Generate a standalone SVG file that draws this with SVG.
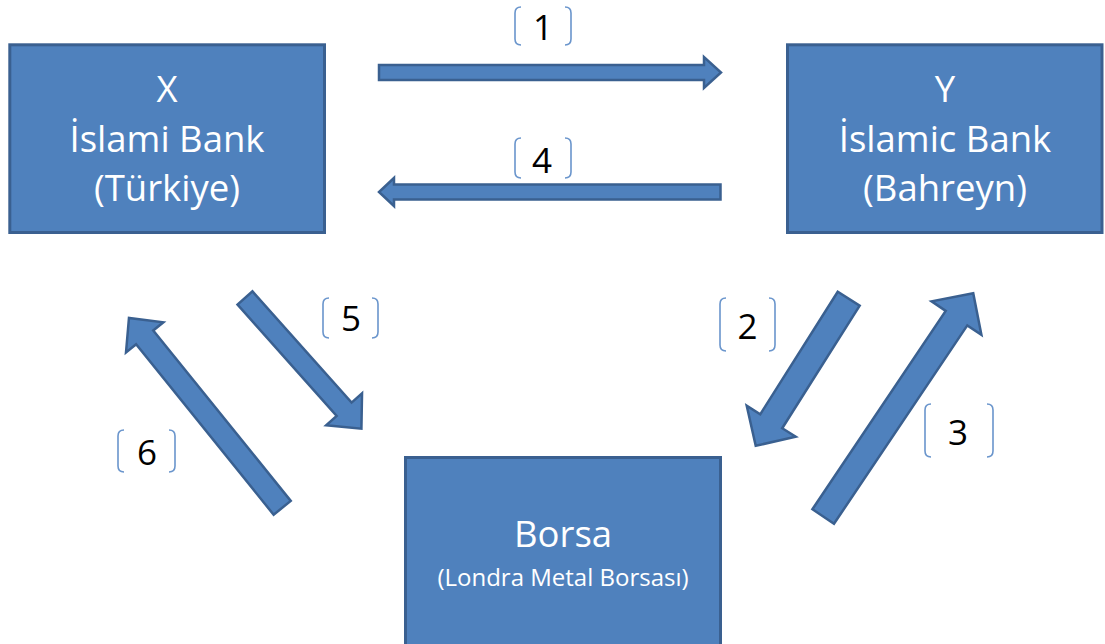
<svg xmlns="http://www.w3.org/2000/svg" width="1105" height="644" viewBox="0 0 1105 644">
  <style>
    .box { fill: #4F81BD; stroke: #3A6090; stroke-width: 3; }
    .arrow { fill: #4F81BD; stroke: #3A6090; stroke-width: 2.5; stroke-linejoin: miter; }
    .title { font-family: "Open Sans", "Liberation Sans", sans-serif; font-size: 36.5px; fill: #FFFFFF; text-anchor: middle; }
    .sub { font-family: "Open Sans", "Liberation Sans", sans-serif; font-size: 24px; fill: #FFFFFF; text-anchor: middle; }
    .num { font-family: "Open Sans", "Liberation Sans", sans-serif; font-size: 35px; fill: #000000; text-anchor: middle; }
    .brace { fill: none; stroke: #6A95CC; stroke-width: 1.6; }
  </style>

  <!-- Nodes -->
  <g id="bank-x">
    <rect class="box" x="9.8" y="44.8" width="314.7" height="187.7"/>
    <text class="title" x="167" y="102">X</text>
    <text class="title" x="167" y="152">İslami Bank</text>
    <text class="title" x="167" y="201">(Türkiye)</text>
  </g>

  <g id="bank-y">
    <rect class="box" x="787.5" y="44.8" width="314.5" height="187.7"/>
    <text class="title" x="945" y="102">Y</text>
    <text class="title" x="945" y="152">İslamic Bank</text>
    <text class="title" x="945" y="201">(Bahreyn)</text>
  </g>

  <g id="borsa">
    <rect class="box" x="405.5" y="457.5" width="315" height="200"/>
    <text class="title" x="563" y="547">Borsa</text>
    <text class="sub" x="563" y="586">(Londra Metal Borsası)</text>
  </g>

  <!-- Connectors: block arrows -->
  <g id="connectors">
    <!-- 1: X to Y -->
    <polygon class="arrow" points="379,65 704,65 704,57 721,72.5 704,88 704,80 379,80"/>
    <!-- 4: Y to X -->
    <polygon class="arrow" points="720.5,184.5 394,184.5 394,178 379,192 394,206 394,199.5 720.5,199.5"/>
    <!-- 2: Y down to Borsa -->
    <polygon class="arrow" transform="translate(848.7,298.7) rotate(122.3)" points="0,-13 145,-13 145,-29 174,0 145,29 145,13 0,13"/>
    <!-- 3: Borsa up to Y -->
    <polygon class="arrow" transform="translate(823.2,516.5) rotate(-56.1)" points="0,-13 239,-13 239,-30 269,0 239,30 239,13 0,13"/>
    <!-- 5: X down to Borsa -->
    <polygon class="arrow" transform="translate(245,298) rotate(48.3)" points="0,-10 149,-10 149,-24 175,0 149,24 149,10 0,10"/>
    <!-- 6: Borsa up to X -->
    <polygon class="arrow" transform="translate(282.2,507.8) rotate(-128.9)" points="0,-11 219,-11 219,-24 244,0 219,24 219,11 0,11"/>
  </g>

  <!-- Step labels with bracket pairs -->
  <g id="label-1">
    <path class="brace" d="M521,7 Q515,7 515,13 L515,39 Q515,45 521,45 M565,7 Q571,7 571,13 L571,39 Q571,45 565,45"/>
    <text class="num" x="543" y="40">1</text>
  </g>
  <g id="label-4">
    <path class="brace" d="M521,138 Q515,138 515,144 L515,172 Q515,178 521,178 M565,138 Q571,138 571,144 L571,172 Q571,178 565,178"/>
    <text class="num" x="542" y="173">4</text>
  </g>
  <g id="label-5">
    <path class="brace" d="M329,298 Q323,298 323,304 L323,332 Q323,338 329,338 M372,298 Q378,298 378,304 L378,332 Q378,338 372,338"/>
    <text class="num" x="351" y="331">5</text>
  </g>
  <g id="label-2">
    <path class="brace" d="M726,298 Q720,298 720,304 L720,345 Q720,351 726,351 M769,298 Q775,298 775,304 L775,345 Q775,351 769,351"/>
    <text class="num" x="747.5" y="339">2</text>
  </g>
  <g id="label-3">
    <path class="brace" d="M931,404 Q925,404 925,410 L925,451 Q925,457 931,457 M987,404 Q993,404 993,410 L993,451 Q993,457 987,457"/>
    <text class="num" x="958" y="445">3</text>
  </g>
  <g id="label-6">
    <path class="brace" d="M124,430 Q118,430 118,436 L118,466 Q118,472 124,472 M169,430 Q175,430 175,436 L175,466 Q175,472 169,472"/>
    <text class="num" x="147" y="465">6</text>
  </g>
</svg>
